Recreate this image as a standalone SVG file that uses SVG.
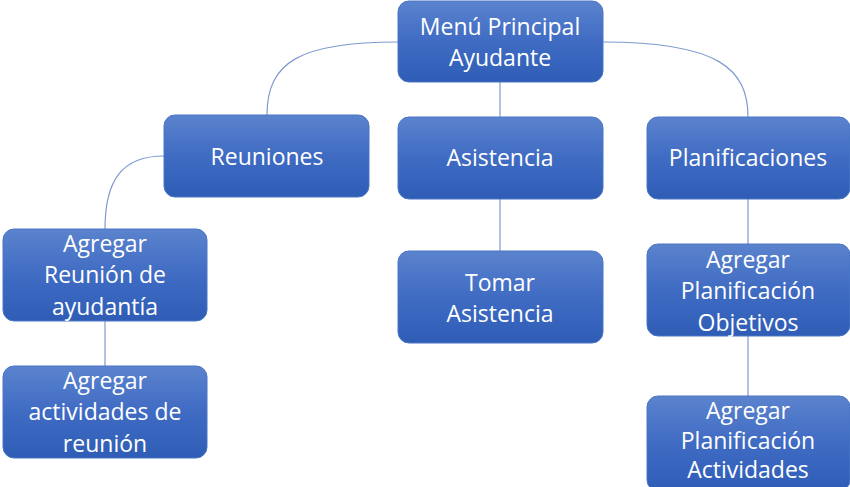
<svg xmlns="http://www.w3.org/2000/svg" width="850" height="487" viewBox="0 0 850 487">
<defs>
<linearGradient id="g" x1="0" y1="0" x2="0" y2="1">
<stop offset="0" stop-color="#5b83cd"/>
<stop offset="0.5" stop-color="#3f6bc3"/>
<stop offset="1" stop-color="#2f5db6"/>
</linearGradient>
</defs>
<style>
.box{fill:url(#g);stroke:#4a76c6;stroke-width:1}
.t{font-family:"Open Sans","Liberation Sans",sans-serif;font-size:23px;fill:#ffffff;text-anchor:middle}
.c{fill:none;stroke:#7f9ad0;stroke-width:1.2}
</style>
<g id="connectors">
<path class="c" d="M398,42 C300,42 267,62 267,115"/>
<path class="c" d="M603,42 C720,42 748,70 748,117"/>
<path class="c" d="M500,82 L500,117"/>
<path class="c" d="M164,156 C122,156 105,180 105,229"/>
<path class="c" d="M105,321 L105,366"/>
<path class="c" d="M500,199 L500,251"/>
<path class="c" d="M748,199 L748,244"/>
<path class="c" d="M748,336 L748,396"/>
</g>
<g id="menu">
<rect class="box" x="398" y="1" width="205" height="81" rx="11"/>
<text class="t" x="500" y="35">Menú Principal</text>
<text class="t" x="500" y="66">Ayudante</text>
</g>
<g id="reuniones">
<rect class="box" x="164" y="115" width="205" height="82" rx="11"/>
<text class="t" x="267" y="165">Reuniones</text>
</g>
<g id="asistencia">
<rect class="box" x="398" y="117" width="205" height="82" rx="11"/>
<text class="t" x="500" y="166">Asistencia</text>
</g>
<g id="planificaciones">
<rect class="box" x="647" y="117" width="203" height="82" rx="11"/>
<text class="t" x="748" y="166">Planificaciones</text>
</g>
<g id="agregar-reunion">
<rect class="box" x="3" y="229" width="204" height="92" rx="11"/>
<text class="t" x="105" y="252">Agregar</text>
<text class="t" x="105" y="283">Reunión de</text>
<text class="t" x="105" y="315">ayudantía</text>
</g>
<g id="agregar-actividades">
<rect class="box" x="3" y="366" width="204" height="92" rx="11"/>
<text class="t" x="105" y="389">Agregar</text>
<text class="t" x="105" y="420">actividades de</text>
<text class="t" x="105" y="452">reunión</text>
</g>
<g id="tomar-asistencia">
<rect class="box" x="398" y="251" width="205" height="92" rx="11"/>
<text class="t" x="500" y="291">Tomar</text>
<text class="t" x="500" y="322">Asistencia</text>
</g>
<g id="plan-objetivos">
<rect class="box" x="647" y="244" width="203" height="92" rx="11"/>
<text class="t" x="748" y="268">Agregar</text>
<text class="t" x="748" y="299">Planificación</text>
<text class="t" x="748" y="331">Objetivos</text>
</g>
<g id="plan-actividades">
<rect class="box" x="647" y="396" width="203" height="95" rx="11"/>
<text class="t" x="748" y="419">Agregar</text>
<text class="t" x="748" y="449">Planificación</text>
<text class="t" x="748" y="478">Actividades</text>
</g>
</svg>
